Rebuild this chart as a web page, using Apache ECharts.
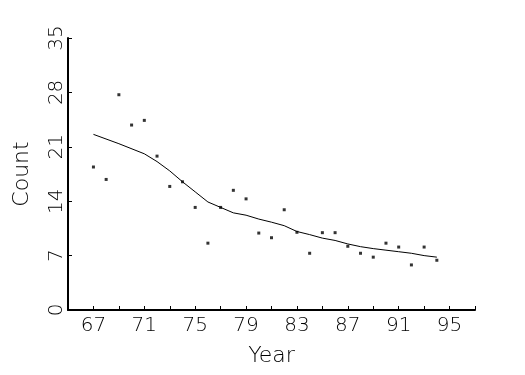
<!DOCTYPE html>
<html><head><meta charset="utf-8">
<script src="https://cdn.jsdelivr.net/npm/echarts@6/dist/echarts.min.js"></script>
<style>html,body{margin:0;padding:0;background:#fff}#c{width:525px;height:375px}</style>
</head><body><div id="c"></div>
<script>
var years = [67,68,69,70,71,72,73,74,75,76,77,78,79,80,81,82,83,84,85,86,87,88,89,90,91,92,93,94];
var counts = [18.4,16.8,27.7,23.8,24.4,19.8,15.9,16.5,13.2,8.6,13.2,15.4,14.3,9.9,9.3,12.9,10.0,7.3,9.95,9.95,8.2,7.3,6.8,8.6,8.1,5.8,8.1,6.4];
var smoothYears = [67,69,71,72,73,74,75,76,77,78,79,80,81,82,83,84,85,86,87,88,89,90,91,92,93,94];
var smoothVals = [22.6,21.4,20.1,19.1,17.9,16.5,15.2,13.9,13.2,12.5,12.2,11.7,11.3,10.85,10.1,9.7,9.25,8.95,8.5,8.15,7.9,7.7,7.5,7.3,7.0,6.8];
var yTicks = [0,7,14,21,28,35];
var xLabels = [67,71,75,79,83,87,91,95];

var font = 'DejaVu Sans';
var chart = echarts.init(document.getElementById('c'), null, {renderer:'canvas'});
chart.setOption({
  animation:false,
  backgroundColor:'#fff',
  grid:{left:68,right:50,top:38,bottom:65,containLabel:false},
  xAxis:{
    type:'value', min:65, max:97, interval:2,
    name:'Year', nameLocation:'middle', nameGap:35,
    nameTextStyle:{color:'#000',fontSize:22,fontFamily:font,fontWeight:'lighter'},
    axisLine:{show:true,onZero:false,lineStyle:{color:'#000',width:2}},
    axisTick:{show:true,inside:true,length:4,lineStyle:{color:'#000',width:1}},
    axisLabel:{color:'#000',fontSize:20,fontFamily:font,fontWeight:'lighter',margin:6,
      showMinLabel:true,showMaxLabel:true,
      formatter:function(v){return xLabels.indexOf(v)>=0? String(v):'';}},
    splitLine:{show:false}
  },
  yAxis:{
    type:'value', min:0, max:35, interval:7,
    name:'Count', nameLocation:'middle', nameGap:35, nameRotate:90,
    nameTextStyle:{color:'#000',fontSize:22,fontFamily:font,fontWeight:'lighter'},
    axisLine:{show:true,onZero:false,lineStyle:{color:'#000',width:2}},
    axisTick:{show:true,inside:true,length:4,lineStyle:{color:'#000',width:1}},
    axisLabel:{color:'#000',fontSize:20,fontFamily:font,fontWeight:'lighter',rotate:90,margin:1,
      formatter:function(v){return yTicks.indexOf(v)>=0? String(v):'';}},
    splitLine:{show:false}
  },
  series:[
    {type:'scatter', data: years.map(function(y,i){return [y,counts[i]];}),
     symbol:'rect', symbolSize:3, itemStyle:{color:'#000'}},
    {type:'line', data: smoothYears.map(function(y,i){return [y,smoothVals[i]];}),
     showSymbol:false, symbol:'none', lineStyle:{color:'#000',width:1}, smooth:false}
  ]
});
</script></body></html>
